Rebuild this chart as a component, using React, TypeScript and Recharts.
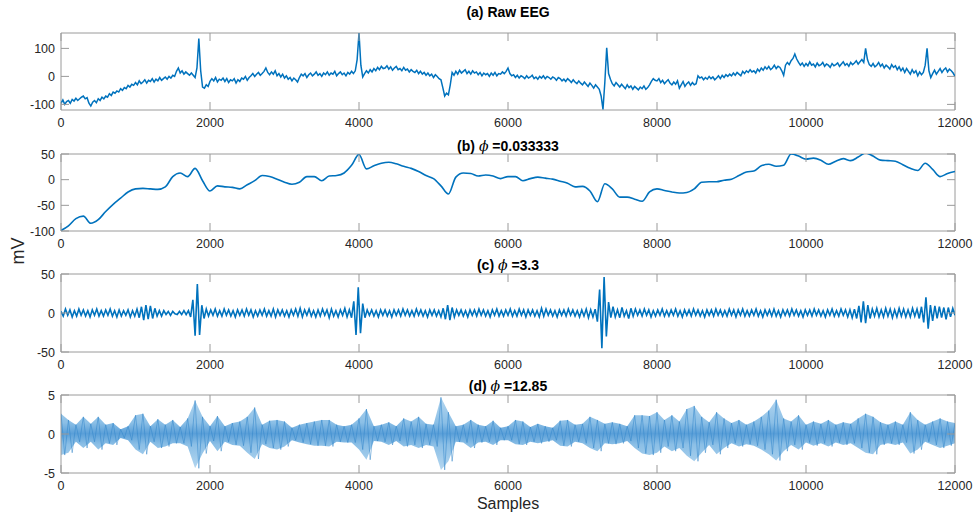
import React from 'react';
import { ComposedChart, Line, Area, XAxis, YAxis, ReferenceArea } from 'recharts';

const sampleTicks = [0, 2000, 4000, 6000, 8000, 10000, 12000];

// (a) raw EEG, one value every 25 samples (one row = 1000 samples)
const rawEeg = [
  -96, -84, -100, -90, -86, -96, -82, -88, -78, -86, -80, -74, -70, -80, -76, -96, -106, -92, -86, -94,
  -80, -86, -74, -80, -70, -74, -62, -68, -56, -60, -52, -56, -44, -50, -40, -44, -32, -38, -28, -32,
  -22, -30, -16, -26, -20, -12, -24, -14, -18, -8, -20, -10, -16, -4, -14, -8, -2, -10, 0, -6,
  4, 0, 18, 30, 12, 20, 8, 16, 10, 4, 12, 4, -4, 30, 135, 20, -38, -42, -30, -36,
  -18, -8, -16, -4, -20, -10, -14, -6, -18, -8, -22, -12, -16, -8, -24, -12, -18, -6, -10, 0,
  -14, -4, 2, 10, 0, 8, 14, 4, 10, 18, 30, 14, 6, 16, 8, 20, 2, 10, -2, 8,
  -6, 2, -10, -4, -16, -6, -12, -20, -4, 8, 2, 10, -4, 6, 12, 2, 8, 16, 4, 10,
  0, 12, 6, 16, 4, 12, 8, 18, 2, 10, 16, 6, 12, 2, 14, 8, 18, 10, 20, 60,
  155, 40, -2, 10, 20, 12, 24, 16, 28, 20, 32, 24, 36, 28, 30, 38, 26, 34, 22, 30,
  36, 24, 28, 20, 32, 22, 26, 16, 24, 18, 14, 22, 10, 18, 8, 14, 4, 12, 2, 8,
  -4, 6, 0, -8, -12, -40, -70, -60, -66, -30, 14, 4, 18, 8, 22, 12, 18, 24, 10, 18,
  8, 20, 12, 16, 6, 14, 2, 12, 6, 10, 0, 12, 4, 14, 2, 10, 8, 16, 10, 18,
  30, 10, 2, 6, -4, 4, -6, 2, -2, -8, 2, -6, -2, 4, -8, -2, -10, 0, -6, 2,
  -8, 0, -4, -10, -2, -6, -14, -4, -8, -16, -10, -18, -8, -14, -22, -12, -20, -26, -16, -24,
  -30, -20, -28, -36, -24, -32, -42, -30, -38, -46, -70, -118, -20, 102, 10, -10, -26, -34, -22, -30,
  -38, -28, -36, -44, -30, -40, -34, -46, -36, -42, -48, -38, -44, -34, -46, -40, -30, -18, -8, -14,
  -16, -8, -22, -14, -26, -18, -12, -24, -30, -20, -28, -16, -42, -30, -18, -36, -26, -20, -32, -22,
  -30, -26, 2, -6, -2, -12, -4, -10, 0, -8, -2, -12, -6, 2, -8, 4, -4, 6, 0, 8,
  2, 12, 4, 14, 8, 2, 18, 10, 20, 14, 24, 16, 20, 12, 26, 18, 30, 22, 34, 26,
  36, 24, 30, 40, 28, 36, 32, 20, 4, 40, 50, 42, 56, 64, 80, 62, 50, 40, 48, 36,
  46, 38, 52, 40, 44, 34, 48, 38, 42, 50, 36, 44, 40, 32, 46, 38, 42, 48, 36, 44,
  52, 40, 46, 36, 50, 42, 48, 56, 44, 52, 60, 50, 100, 60, 42, 36, 46, 34, 40, 50,
  36, 44, 30, 40, 34, 26, 42, 32, 38, 24, 34, 20, 30, 14, 28, 18, 8, 24, 12, 20,
  2, 16, 6, 14, 40, 100, 20, -4, 10, 22, 8, 18, 28, 14, 24, 30, 16, 26, 20, 12,
  0,
];

// (b) phi = 0.033333, one value every 100 samples
const phiLow = [
  -99, -90, -76, -71, -85, -78, -62, -48, -36, -24, -18, -17, -18, -19, -14, 6, 13, 6, 22, -2,
  -22, -12, -14, -15, -18, -10, -2, 8, 6, 1, -5, -9, -5, 6, 6, -2, 7, 8, 13, 28,
  49, 21, 27, 32, 34, 31, 26, 22, 16, 8, 2, -12, -28, 5, 13, 12, 7, 9, 7, 2,
  6, 6, -2, 2, 5, 3, 1, -3, -7, -14, -13, -22, -43, -8, -18, -34, -34, -38, -42, -24,
  -18, -21, -24, -26, -25, -18, -5, -4, -4, -1, 1, 8, 15, 17, 27, 30, 26, 28, 50, 46,
  40, 42, 38, 30, 36, 41, 37, 44, 52, 46, 38, 37, 36, 29, 22, 18, 32, 20, 6, 12,
  16,
];

// (c) phi = 3.3, one value every 30 samples
const phiMid = [
  2, -4, 5, -3, 4, -5, 3, -4, 5, -3, 4, -4, 3, -5, 4, -3, 5, -4, 3, -4,
  4, -3, 5, -4, 3, -5, 4, -4, 3, -3, 4, -5, 3, -4, 5, -6, 8, -9, 10, -8,
  9, -7, 6, -4, 3, -4, 3, -2, 2, -3, 2, -1, -2, 2, -2, 3, -2, 3, -5, 17,
  -29, 37, -28, 10, -7, 5, -4, 4, -3, 5, -4, 3, -4, 5, -3, 4, -4, 3, -5, 4,
  -3, 4, -4, 5, -3, 4, -5, 3, -4, 4, -3, 5, -4, 3, -4, 5, -5, 4, -3, 4,
  -4, 3, -5, 4, -3, 5, -4, 6, -5, 4, -3, 5, -4, 3, -5, 4, -4, 5, -3, 4,
  -6, 5, -4, 3, -5, 4, -3, 6, -5, 4, -6, 15, -28, 33, -26, 12, -6, 4, -3, 4,
  -4, 3, -5, 4, -3, 4, -4, 3, -5, 4, -3, 4, -4, 5, -3, 4, -4, 3, -4, 5,
  -3, 4, -4, 3, -5, 4, -3, 4, -4, 3, -5, 6, -8, 10, -9, 7, -5, 4, -3, 4,
  -4, 3, -5, 4, -3, 4, -4, 5, -3, 4, -4, 3, -5, 4, -3, 5, -4, 3, -4, 4,
  -3, 5, -4, 3, -4, 5, -3, 4, -5, 4, -3, 4, -4, 3, -5, 6, -4, 5, -3, 4,
  -4, 3, -5, 4, -3, 4, -4, 5, -3, 4, -4, 3, -5, 4, -4, 5, -6, 4, -5, 5,
  -11, 30, -45, 46, -30, 14, -6, 8, -5, 4, -6, 7, -4, 3, -7, 6, -4, 5, -3, 4,
  -4, 5, -3, 4, -5, 3, -4, 4, -3, 5, -4, 3, -4, 4, -3, 5, -4, 3, -5, 4,
  -3, 4, -4, 5, -3, 4, -4, 3, -5, 4, -3, 4, -4, 5, -3, 4, -4, 3, -4, 5,
  -3, 4, -5, 4, -3, 5, -4, 3, -4, 4, -3, 5, -4, 3, -5, 4, -3, 4, -4, 5,
  -4, 3, -5, 4, -3, 4, -4, 5, -3, 4, -4, 3, -5, 4, -3, 4, -4, 5, -3, 4,
  -4, 3, -5, 4, -3, 5, -4, 3, -4, 5, -3, 4, -5, 4, -6, 5, -7, 9, -12, 15,
  -13, 10, -7, 5, -4, 6, -5, 4, -5, 6, -4, 5, -6, 4, -5, 6, -4, 5, -5, 4,
  -5, 6, -4, 5, -7, 8, -12, 20, -20, 10, -10, 9, -7, 8, -6, 7, -8, 7, -5, 6,
  -3,
];

// (d) phi = 12.85, envelope of the fast oscillation every 100 samples
const phiHighUpper = [
  2.6, 1.8, 1.2, 2.2, 1.3, 2.2, 1.2, 1.4, 0.6, 1.0, 2.4, 2.6, 1.0, 1.9, 1.2, 1.8, 0.9, 2.0, 4.3, 2.2,
  1.0, 2.3, 1.0, 1.4, 1.6, 2.2, 3.4, 1.2, 1.7, 1.8, 1.6, 0.8, 1.2, 1.4, 1.6, 1.8, 1.8, 1.2, 1.0, 1.2,
  2.0, 3.2, 1.0, 1.2, 1.5, 1.0, 2.0, 1.6, 2.2, 1.3, 1.2, 4.7, 2.8, 1.0, 1.2, 1.8, 1.2, 1.0, 1.7, 0.8,
  1.0, 1.8, 1.6, 0.9, 1.3, 1.0, 0.8, 1.7, 1.8, 1.2, 1.3, 2.2, 1.8, 1.3, 1.5, 1.3, 1.0, 2.4, 2.4, 2.3,
  2.8, 1.8, 2.4, 1.6, 3.2, 3.6, 2.2, 1.5, 2.8, 2.0, 1.4, 1.8, 1.2, 1.6, 2.2, 3.0, 4.4, 2.0, 1.6, 2.4,
  1.2, 1.6, 1.3, 1.8, 1.2, 1.5, 1.3, 2.0, 2.6, 2.2, 1.5, 1.2, 1.6, 1.2, 2.8, 1.8, 1.2, 1.6, 2.0, 1.6,
  1.4,
];
const phiHighLower = [
  -2.7, -2.4, -1.0, -1.8, -1.0, -2.0, -1.2, -1.4, -0.5, -0.8, -2.0, -2.6, -1.0, -1.8, -1.6, -1.2, -1.2, -1.6, -4.4, -2.5,
  -0.9, -2.2, -1.0, -1.4, -1.5, -2.4, -3.2, -1.3, -1.8, -2.0, -1.6, -0.8, -1.1, -1.3, -1.5, -1.5, -1.6, -1.0, -1.1, -1.1,
  -2.0, -3.3, -0.9, -1.0, -1.4, -0.9, -1.6, -1.4, -1.8, -1.4, -1.6, -4.6, -3.5, -1.0, -1.1, -1.8, -1.1, -1.0, -1.4, -0.8,
  -0.8, -1.3, -1.4, -1.0, -1.2, -1.0, -0.8, -1.5, -1.6, -1.0, -1.2, -1.8, -2.2, -1.2, -1.3, -1.2, -0.9, -1.8, -2.5, -2.7,
  -2.4, -1.6, -2.2, -1.8, -2.8, -3.5, -2.4, -1.4, -2.6, -1.8, -1.2, -1.6, -1.3, -1.5, -2.0, -2.6, -3.4, -2.2, -1.4, -2.0,
  -1.1, -1.5, -1.2, -1.6, -1.1, -1.4, -1.2, -1.8, -2.4, -2.6, -1.4, -1.2, -1.4, -1.1, -2.5, -2.0, -1.0, -1.4, -1.8, -1.5,
  -1.2,
];

const BLUE = '#0072BD';
const AXIS = '#9a9a9a';
const TEXT = '#262626';
const FONT = '"Liberation Sans", Arial, Helvetica, sans-serif';
const PLOT_L = 61;
const PLOT_R = 955;

const rawData = rawEeg.map((v, i) => ({ x: i * 25, y: v }));
const lowData = phiLow.map((v, i) => ({ x: i * 100, y: v }));
const midData = phiMid.map((v, i) => ({ x: i * 30, y: v }));
// band from the read envelope; the trace swings from the upper to the lower reading
const highData: any[] = [];
phiHighUpper.forEach((v, i) => {
  highData.push({ x: i * 100, band: [phiHighLower[i], v], trace: v });
  if (i < phiHighUpper.length - 1) highData.push({ x: i * 100 + 50, trace: phiHighLower[i] });
});

type PanelProps = {
  top: number;
  h: number;
  data: any[];
  domain: [number, number];
  yTicks: number[];
  children: React.ReactNode;
};

const Panel = ({ top, h, data, domain, yTicks, children }: PanelProps) => {
  const plotW = PLOT_R - PLOT_L;
  const xTick = (p: any) => (
    <g>
      <line x1={p.x} y1={p.y} x2={p.x} y2={p.y - 8} stroke={AXIS} />
      <line x1={p.x} y1={p.y - h} x2={p.x} y2={p.y - h + 8} stroke={AXIS} />
      <text x={p.x} y={p.y + 17} textAnchor="middle" fill={TEXT} fontSize={12.5} fontFamily={FONT}>
        {p.payload.value}
      </text>
    </g>
  );
  const yTick = (p: any) => (
    <g>
      <line x1={p.x} y1={p.y} x2={p.x + 8} y2={p.y} stroke={AXIS} />
      <line x1={p.x + plotW - 8} y1={p.y} x2={p.x + plotW} y2={p.y} stroke={AXIS} />
      <text x={p.x - 6} y={p.y + 4.5} textAnchor="end" fill={TEXT} fontSize={12.5} fontFamily={FONT}>
        {p.payload.value}
      </text>
    </g>
  );
  return (
    <div style={{ position: 'absolute', left: 0, top: top - 20 }}>
      <ComposedChart
        width={976}
        height={20 + h + 26}
        data={data}
        margin={{ top: 20, right: 976 - PLOT_R, bottom: 0, left: 0 }}
      >
        <XAxis
          dataKey="x"
          type="number"
          domain={[0, 12000]}
          ticks={sampleTicks}
          interval={0}
          tickSize={0}
          tickMargin={0}
          axisLine={false}
          tickLine={false}
          tick={xTick}
          height={26}
          allowDataOverflow
        />
        <YAxis
          type="number"
          domain={domain}
          ticks={yTicks}
          interval={0}
          tickSize={0}
          tickMargin={0}
          axisLine={false}
          tickLine={false}
          tick={yTick}
          width={PLOT_L}
          allowDataOverflow
        />
        {children}
        <ReferenceArea
          x1={0}
          x2={12000}
          y1={domain[0]}
          y2={domain[1]}
          fill="none"
          stroke={AXIS}
          strokeWidth={1}
          fillOpacity={0}
          ifOverflow="visible"
        />
      </ComposedChart>
    </div>
  );
};

const Title = ({ y, children }: { y: number; children: React.ReactNode }) => (
  <div
    style={{
      position: 'absolute',
      left: PLOT_L,
      width: PLOT_R - PLOT_L,
      top: y - 8,
      height: 16,
      lineHeight: '16px',
      textAlign: 'center',
      fontFamily: FONT,
      fontWeight: 'bold',
      fontSize: 14,
      color: '#000',
      whiteSpace: 'pre',
    }}
  >
    {children}
  </div>
);

const Phi = () => (
  <span style={{ fontFamily: '"DejaVu Serif", serif', fontStyle: 'italic', fontWeight: 'normal' }}>ϕ</span>
);

export default function App() {
  return (
    <div
      style={{
        position: 'absolute',
        left: 0,
        top: 0,
        width: 976,
        height: 519,
        background: '#fff',
        overflow: 'hidden',
      }}
    >
      <Panel top={33} h={77} data={rawData} domain={[-120, 155]} yTicks={[-100, 0, 100]}>
        <Line type="linear" dataKey="y" stroke={BLUE} strokeWidth={1.5} dot={false} isAnimationActive={false} />
      </Panel>
      <Panel top={154} h={77} data={lowData} domain={[-100, 50]} yTicks={[-100, -50, 0, 50]}>
        <Line type="monotone" dataKey="y" stroke={BLUE} strokeWidth={1.6} dot={false} isAnimationActive={false} />
      </Panel>
      <Panel top={274} h={78} data={midData} domain={[-50, 50]} yTicks={[-50, 0, 50]}>
        <Line type="linear" dataKey="y" stroke={BLUE} strokeWidth={1.6} dot={false} isAnimationActive={false} />
      </Panel>
      <Panel top={395} h={78} data={highData} domain={[-5, 5]} yTicks={[-5, 0, 5]}>
        <defs>
          <linearGradient id="bandFill" x1="0" y1="0" x2="0" y2="1">
            <stop offset="0%" stopColor="#b5d7f0" />
            <stop offset="35%" stopColor="#8bbfe6" />
            <stop offset="50%" stopColor="#5a9fd8" />
            <stop offset="65%" stopColor="#8bbfe6" />
            <stop offset="100%" stopColor="#b5d7f0" />
          </linearGradient>
        </defs>
        <Area
          type="linear"
          dataKey="band"
          stroke="none"
          fill="url(#bandFill)"
          fillOpacity={1}
          connectNulls
          isAnimationActive={false}
        />
        <Line
          type="linear"
          dataKey="trace"
          stroke="#2f84c9"
          strokeWidth={0.7}
          strokeOpacity={0.75}
          dot={false}
          isAnimationActive={false}
        />
      </Panel>

      <Title y={12}>(a) Raw EEG</Title>
      <Title y={146}>
        (b) <Phi /> =0.033333
      </Title>
      <Title y={265}>
        (c) <Phi /> =3.3
      </Title>
      <Title y={386}>
        (d) <Phi /> =12.85
      </Title>

      <div
        style={{
          position: 'absolute',
          left: PLOT_L,
          width: PLOT_R - PLOT_L,
          top: 495,
          textAlign: 'center',
          fontFamily: FONT,
          fontSize: 16,
          color: TEXT,
          lineHeight: '18px',
        }}
      >
        Samples
      </div>
      <div
        style={{
          position: 'absolute',
          left: 18,
          top: 251,
          transform: 'translate(-50%, -50%) rotate(-90deg)',
          fontFamily: FONT,
          fontSize: 18,
          color: TEXT,
          lineHeight: '20px',
          whiteSpace: 'nowrap',
        }}
      >
        mV
      </div>
    </div>
  );
}
